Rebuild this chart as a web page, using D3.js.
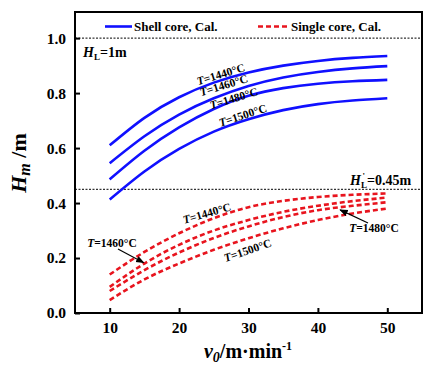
<!DOCTYPE html>
<html><head><meta charset="utf-8">
<script src="https://cdn.jsdelivr.net/npm/d3@7"></script>
<style>body{margin:0;background:#fff}svg text{font-family:"Liberation Serif","Times New Roman",serif;font-weight:bold}</style>
</head><body><svg id="c" width="428" height="377"></svg>
<script>
const vValues = [10, 15, 20, 25, 30, 35, 40, 45, 50];
const temps = ["1440", "1460", "1480", "1500"];
const shell1440 = [0.61, 0.71, 0.785, 0.838, 0.875, 0.900, 0.917, 0.928, 0.935];
const shell1460 = [0.545, 0.643, 0.722, 0.781, 0.826, 0.857, 0.877, 0.890, 0.898];
const shell1480 = [0.486, 0.59, 0.675, 0.742, 0.790, 0.818, 0.834, 0.843, 0.848];
const shell1500 = [0.413, 0.515, 0.597, 0.660, 0.705, 0.738, 0.760, 0.773, 0.781];
const single1440 = [0.14, 0.222, 0.29, 0.345, 0.385, 0.408, 0.422, 0.430, 0.435];
const single1460 = [0.095, 0.18, 0.248, 0.30, 0.338, 0.368, 0.39, 0.407, 0.42];
const single1480 = [0.08, 0.156, 0.22, 0.273, 0.315, 0.349, 0.374, 0.39, 0.403];
const single1500 = [0.047, 0.122, 0.18, 0.23, 0.272, 0.308, 0.338, 0.362, 0.38];
const xTicks = [10, 20, 30, 40, 50];
const yTicks = [0.0, 0.2, 0.4, 0.6, 0.8, 1.0];
const refLines = [1.0, 0.45];

const svg = d3.select("#c");
const L = 75, R = 422, T = 12, B = 313;
const x = d3.scaleLinear().domain([5, 55]).range([L, R]);
const y = d3.scaleLinear().domain([0, 1.095]).range([B, T]);

refLines.forEach(v => svg.append("line").attr("x1", L).attr("x2", R).attr("y1", y(v)).attr("y2", y(v))
  .attr("stroke", "#000").attr("stroke-width", 1).attr("stroke-dasharray", "2,1.5"));

const line = d3.line().x((d, i) => x(vValues[i])).y(d => y(d)).curve(d3.curveNatural);
[shell1440, shell1460, shell1480, shell1500].forEach(s =>
  svg.append("path").attr("d", line(s)).attr("fill", "none").attr("stroke", "#1010ff").attr("stroke-width", 2.6));
[single1440, single1460, single1480, single1500].forEach(s =>
  svg.append("path").attr("d", line(s)).attr("fill", "none").attr("stroke", "#e8141e").attr("stroke-width", 2.6).attr("stroke-dasharray", "5,3"));

const xAxis = d3.axisBottom(x).tickValues(xTicks).tickSize(-5).tickPadding(9).tickFormat(d3.format("d"));
const yAxis = d3.axisLeft(y).tickValues(yTicks).tickSize(-5).tickPadding(9).tickFormat(d3.format(".1f"));
const gx = svg.append("g").attr("transform", `translate(0,${B})`).call(xAxis);
const gy = svg.append("g").attr("transform", `translate(${L},0)`).call(yAxis);
[gx, gy].forEach(g => {
  g.select(".domain").remove();
  g.selectAll(".tick line").attr("stroke", "#000").attr("stroke-width", 2);
  g.selectAll(".tick text").attr("font-size", 15.5).attr("fill", "#000")
    .style("font-family", '"Liberation Serif",serif').style("font-weight", "bold");
});
svg.append("rect").attr("x", L).attr("y", T).attr("width", R - L).attr("height", B - T)
  .attr("fill", "none").attr("stroke", "#000").attr("stroke-width", 2);

svg.append("line").attr("x1", 105).attr("x2", 132).attr("y1", 26.5).attr("y2", 26.5).attr("stroke", "#1010ff").attr("stroke-width", 2.6);
svg.append("text").attr("x", 134).attr("y", 31).attr("font-size", 13).text("Shell core, Cal.");
svg.append("line").attr("x1", 258).attr("x2", 289).attr("y1", 26.5).attr("y2", 26.5).attr("stroke", "#e8141e").attr("stroke-width", 2.6).attr("stroke-dasharray", "5,3");
svg.append("text").attr("x", 291).attr("y", 31).attr("font-size", 13).text("Single core, Cal.");

const hl = svg.append("text").attr("x", 83).attr("y", 57).attr("font-size", 14);
hl.append("tspan").attr("font-style", "italic").text("H");
hl.append("tspan").attr("font-size", 9).attr("dy", 3).text("L");
hl.append("tspan").attr("dy", -3).text("=1m");
const hl2 = svg.append("text").attr("x", 350).attr("y", 185).attr("font-size", 14);
hl2.append("tspan").attr("font-style", "italic").text("H");
hl2.append("tspan").attr("font-size", 9).attr("dy", 3).text("L");
hl2.append("tspan").attr("dy", -3).text("=0.45m");
const hl2w = hl2.node().getBBox();
svg.append("text").attr("x", 350 + 12.5).attr("y", 179).attr("font-size", 9).text("'");

function tlabel(cx, cy, rot, t, size) {
  const g = svg.append("text").attr("transform", `translate(${cx},${cy}) rotate(${rot})`)
    .attr("text-anchor", "middle").attr("font-size", size || 11.5);
  g.append("tspan").attr("font-style", "italic").text("T");
  g.append("tspan").text("=" + t + "°C");
}
tlabel(222, 78, -17, temps[0]);
tlabel(225, 89, -17, temps[1]);
tlabel(235, 102, -17, temps[2]);
tlabel(244, 119, -18, temps[3]);
tlabel(208, 217, -16, temps[0]);
tlabel(249, 254, -19, temps[3]);
tlabel(112, 247, 0, temps[1]);
tlabel(374, 232, 0, temps[2]);

svg.append("defs").append("marker").attr("id", "ah").attr("viewBox", "0 0 10 10").attr("refX", 9).attr("refY", 5)
  .attr("markerWidth", 7).attr("markerHeight", 7).attr("orient", "auto")
  .append("path").attr("d", "M0,1L10,5L0,9z").attr("fill", "#000");
svg.append("line").attr("x1", 118).attr("y1", 249).attr("x2", x(14.9)).attr("y2", y(0.183))
  .attr("stroke", "#000").attr("stroke-width", 1.2).attr("marker-end", "url(#ah)");
svg.append("line").attr("x1", 368).attr("y1", 223).attr("x2", x(43.2)).attr("y2", y(0.375))
  .attr("stroke", "#000").attr("stroke-width", 1.2).attr("marker-end", "url(#ah)");

const xt = svg.append("text").attr("x", 248).attr("y", 358).attr("text-anchor", "middle").attr("font-size", 20);
xt.append("tspan").attr("font-style", "italic").text("v");
xt.append("tspan").attr("font-style", "italic").attr("font-size", 14).attr("dy", 4).text("0");
xt.append("tspan").attr("dy", -4).text("/m·min");
xt.append("tspan").attr("font-size", 12).attr("dy", -8).text("-1");
const yt = svg.append("text").attr("transform", "translate(26,163) rotate(-90)").attr("text-anchor", "middle").attr("font-size", 22);
yt.append("tspan").attr("font-style", "italic").text("H");
yt.append("tspan").attr("font-style", "italic").attr("font-size", 16).attr("dy", 4).text("m");
yt.append("tspan").attr("dy", -4).text(" /m");
</script></body></html>
